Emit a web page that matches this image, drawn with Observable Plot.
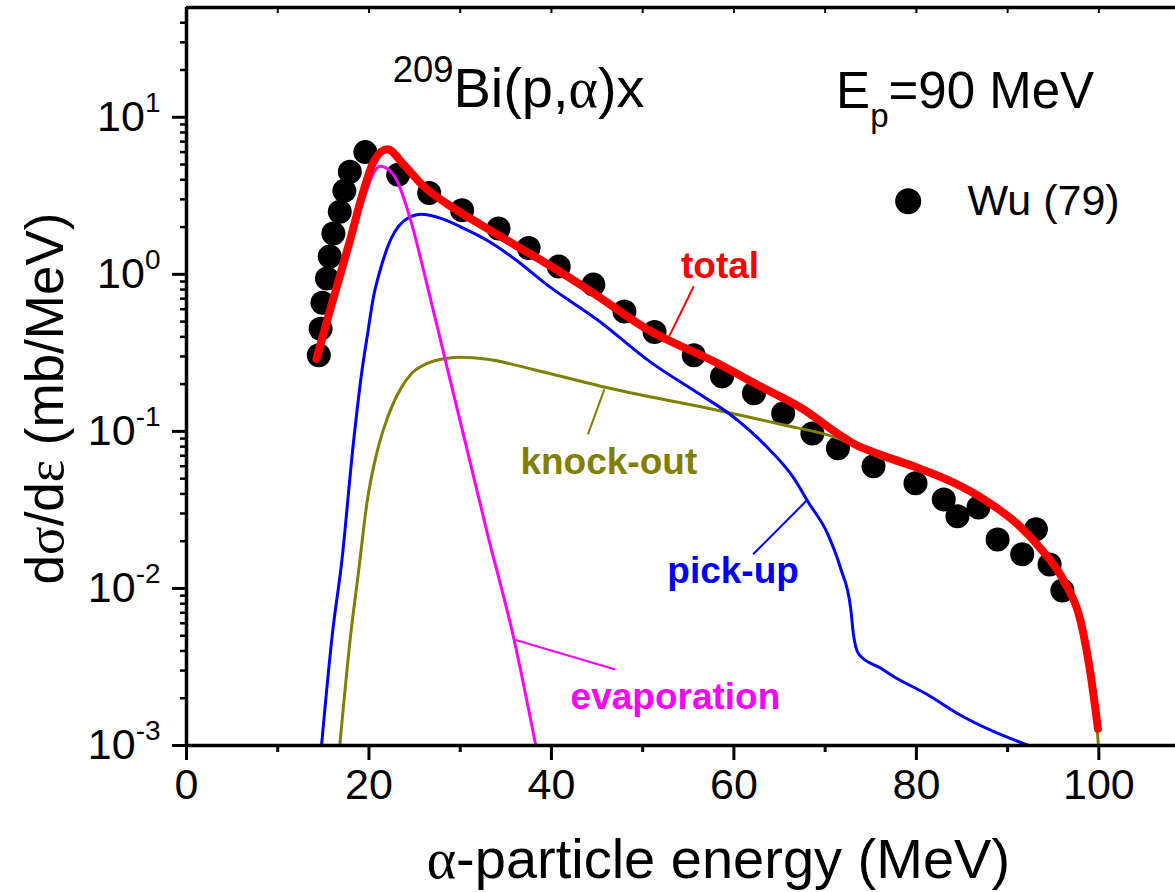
<!DOCTYPE html>
<html><head><meta charset="utf-8">
<script src="https://cdn.jsdelivr.net/npm/d3@7"></script>
<script src="https://cdn.jsdelivr.net/npm/@observablehq/plot@0.6"></script>
<style>body{margin:0;background:#fff}</style>
</head><body><div id="chart"></div>
<script>
// ---- data ----
const wuE = [14.5, 14.7, 14.9, 15.4, 15.7, 16.1, 16.8, 17.3, 17.9, 19.6, 23.2, 26.6, 30.2, 34.2, 37.5, 40.8, 44.6, 48.0, 51.3, 55.6, 58.7, 62.2, 65.4, 68.6, 71.4, 75.3, 79.9, 83.0, 84.5, 86.8, 88.9, 91.6, 93.1, 94.6, 96.0];
const wuY = [0.305, 0.45, 0.66, 0.94, 1.3, 1.82, 2.5, 3.4, 4.5, 6.0, 4.3, 3.3, 2.56, 1.96, 1.47, 1.12, 0.86, 0.58, 0.43, 0.305, 0.224, 0.175, 0.13, 0.097, 0.078, 0.060, 0.0467, 0.0369, 0.0288, 0.0328, 0.0205, 0.0165, 0.0238, 0.0142, 0.0097];

const totalE = [14.25, 15.8, 17.8, 19.4, 20.5, 22.0, 23.8, 26.0, 28.6, 32.2, 35.9, 39.6, 44.3, 50.5, 57.8, 63.3, 67.3, 71.7, 73.2, 76.1, 79.7, 83.8, 87.4, 91.1, 93.6, 96.2, 98.0, 99.1, 99.9];
const totalY = [0.29, 0.61, 1.55, 3.4, 5.2, 6.25, 5.0, 3.63, 2.8, 2.08, 1.55, 1.16, 0.78, 0.447, 0.279, 0.188, 0.142, 0.094, 0.083, 0.071, 0.060, 0.048, 0.0369, 0.0256, 0.018, 0.0111, 0.0062, 0.00283, 0.00128];

const evapE = [14.3, 15.8, 17.8, 19.4, 20.5, 21.2, 22.4, 23.1, 24.6, 26.0, 28.6, 30.8, 33.0, 35.9, 38.3];
const evapY = [0.28, 0.6, 1.5, 3.0, 4.4, 4.87, 4.5, 3.9, 2.18, 1.05, 0.25, 0.0747, 0.0221, 0.00473, 0.00099];

const pickE = [14.8, 16.0, 17.0, 18.3, 19.3, 19.8, 20.5, 21.2, 22.0, 23.8, 25.7, 27.9, 30.4, 33.3, 35.9, 39.6, 45.1, 50.9, 56.0, 59.6, 63.3, 66.6, 68.1, 70.3, 71.7, 72.8, 73.1, 73.7, 76.1, 77.5, 81.2, 84.5, 92.5];
const pickY = [0.001, 0.0052, 0.0145, 0.085, 0.26, 0.40, 0.72, 1.05, 1.47, 2.18, 2.41, 2.27, 1.96, 1.6, 1.26, 0.85, 0.51, 0.275, 0.176, 0.128, 0.083, 0.050, 0.0358, 0.0221, 0.0134, 0.00746, 0.0051, 0.0038, 0.0031, 0.00275, 0.00211, 0.0016, 0.00099];

const knockE = [16.8, 18.0, 18.9, 19.8, 20.9, 22.0, 23.5, 24.6, 26.4, 28.6, 30.0, 33.0, 38.0, 45.4, 47.9, 57.8, 65.1, 71.7, 73.5, 76.0, 80.0, 84.0, 88.0, 92.0, 94.0, 96.0, 98.0, 99.1, 99.6, 99.95];
const knockY = [0.001, 0.0051, 0.0134, 0.0358, 0.0747, 0.121, 0.188, 0.231, 0.271, 0.292, 0.296, 0.288, 0.248, 0.194, 0.18, 0.138, 0.111, 0.089, 0.080, 0.068, 0.057, 0.046, 0.035, 0.024, 0.017, 0.0108, 0.006, 0.0028, 0.0018, 0.001];

// ---- ticks ----
const xTicks = [0, 20, 40, 60, 80, 100];
const xMinorTicks = [10, 30, 50, 70, 90];
const xTopTicks = [10, 20, 30, 40, 50, 60, 70, 80, 90, 100];
const yTicks = [1e-3, 1e-2, 1e-1, 1, 10];
const yTickLabels = ["10^{-3}", "10^{-2}", "10^{-1}", "10^{0}", "10^{1}"];
const yMinorTicks = [];
for (const d of [1e-3, 1e-2, 1e-1, 1, 10]) for (const m of [2,3,4,5,6,7,8,9]) if (d*m < 50) yMinorTicks.push(d*m);

// ---- labels (data coordinates) ----
const curveLabels = [
  {text: "total", x: 54.2, y: 0.944, color: "#ff0000"},
  {text: "knock-out", x: 36.6, y: 0.0532, color: "#808000"},
  {text: "pick-up", x: 52.7, y: 0.01076, color: "#0000ff"},
  {text: "evaporation", x: 42.1, y: 0.00172, color: "#ff00ff"}
];
const leaders = [
  {x1: 52.9, y1: 0.403, x2: 55.6, y2: 0.84, color: "#ff0000"},
  {x1: 44.0, y1: 0.0957, x2: 45.8, y2: 0.185, color: "#808000"},
  {x1: 62.1, y1: 0.0165, x2: 68.0, y2: 0.0364, color: "#0000ff"},
  {x1: 35.9, y1: 0.00473, x2: 47.0, y2: 0.00305, color: "#ff00ff"}
];
const titleText = [{text: "^{209}Bi(p,α)x", x: 22.6, y: 11.6}];
const energyText = [{text: "E_{p}=90 MeV", x: 71.2, y: 11.4}];
const legendDot = [{x: 79.1, y: 2.92}];
const legendText = [{text: "Wu (79)", x: 85.6, y: 2.38}];
const xTitle = [{text: "α-particle energy (MeV)", x: 58.3}];
const yTitle = [{text: "dσ/dε (mb/MeV)", y: 0.162}];

const rows = (xs, ys) => xs.map((x, i) => ({x, y: ys[i]}));
const FONT = "'Liberation Sans', Arial, Helvetica, sans-serif";

const plot = Plot.plot({
  width: 1175, height: 892,
  marginLeft: 186, marginRight: 0, marginTop: 7, marginBottom: 147,
  style: {fontFamily: FONT, background: "#fff", color: "#000", overflow: "visible"},
  x: {domain: [0, 108.4], label: null},
  y: {type: "log", domain: [1e-3, 50], label: null},
  marks: [
    Plot.dot(rows(wuE, wuY), {x: "x", y: "y", r: 12, fill: "#000"}),
    Plot.line(rows(knockE, knockY), {x: "x", y: "y", stroke: "#808000", strokeWidth: 3, curve: "monotone-x", clip: true}),
    Plot.line(rows(pickE, pickY), {x: "x", y: "y", stroke: "#0000ff", strokeWidth: 3, curve: "monotone-x", clip: true}),
    Plot.line(rows(evapE, evapY), {x: "x", y: "y", stroke: "#ff00ff", strokeWidth: 3, curve: "monotone-x", clip: true}),
    Plot.line(rows(totalE, totalY), {x: "x", y: "y", stroke: "#ff0000", strokeWidth: 8, curve: "monotone-x", clip: true}),
    Plot.link(leaders, {x1: "x1", y1: "y1", x2: "x2", y2: "y2", stroke: "color", strokeWidth: 2}),
    Plot.text(curveLabels, {x: "x", y: "y", text: "text", fill: "color", fontWeight: "bold", fontSize: 37, textAnchor: "start", lineAnchor: "bottom"}),
    Plot.text(titleText, {x: "x", y: "y", text: "text", fontSize: 56, textAnchor: "start", lineAnchor: "bottom"}),
    Plot.text(energyText, {x: "x", y: "y", text: "text", fontSize: 51, textAnchor: "start", lineAnchor: "bottom"}),
    Plot.dot(legendDot, {x: "x", y: "y", r: 13, fill: "#000"}),
    Plot.text(legendText, {x: "x", y: "y", text: "text", fontSize: 43, textAnchor: "start", lineAnchor: "bottom"}),
    Plot.text(xTitle, {x: "x", frameAnchor: "bottom", dy: 132, text: "text", fontSize: 56, textAnchor: "middle", lineAnchor: "bottom"}),
    Plot.text(yTitle, {y: "y", frameAnchor: "left", dx: -124, rotate: -90, text: "text", fontSize: 53, textAnchor: "middle", lineAnchor: "bottom"}),
    // frame
    Plot.ruleX([0], {strokeWidth: 3.5}),
    Plot.ruleY([1e-3], {strokeWidth: 3.5}),
    Plot.ruleY([50], {strokeWidth: 3.5}),
    // axes
    Plot.axisX(xTicks, {anchor: "bottom", tickSize: 15, tickPadding: 8, strokeWidth: 3, fontSize: 43, label: null}),
    Plot.axisX(xMinorTicks, {anchor: "bottom", tickSize: 7, strokeWidth: 3, tickFormat: () => "", label: null}),
    Plot.axisX(xTopTicks, {anchor: "top", tickSize: 5, dy: 5, strokeWidth: 2, tickFormat: () => "", label: null}),
    Plot.axisY(yTicks, {anchor: "left", tickSize: 14, tickPadding: 12, strokeWidth: 3, fontSize: 43, tickFormat: d => yTickLabels[yTicks.indexOf(d)], label: null}),
    Plot.axisY(yMinorTicks, {anchor: "left", tickSize: 6, strokeWidth: 2.5, tickFormat: () => "", label: null})
  ]
});

// rich text: ^{sup}, _{sub}, Greek letters in a serif face
function richText(svg) {
  svg.querySelectorAll("text").forEach(t => {
    const s = t.textContent;
    if (!/\^\{|_\{|[α-ω]/.test(s)) return;
    const fs = parseFloat(t.getAttribute("font-size") || (t.parentNode && t.parentNode.getAttribute("font-size")) || getComputedStyle(t).fontSize) || 16;
    while (t.firstChild) t.removeChild(t.firstChild);
    const re = /\^\{([^}]*)\}|_\{([^}]*)\}|([α-ω])|([^\^_α-ω]+)/g;
    let m, shift = 0;
    const NS = "http://www.w3.org/2000/svg";
    while ((m = re.exec(s))) {
      const ts = document.createElementNS(NS, "tspan");
      let target = 0, size = fs;
      if (m[1] !== undefined) { target = -0.45 * fs; size = 0.65 * fs; ts.textContent = m[1]; }
      else if (m[2] !== undefined) { target = 0.36 * fs; size = 0.65 * fs; ts.textContent = m[2]; }
      else if (m[3] !== undefined) { ts.textContent = m[3]; ts.setAttribute("font-family", "'Liberation Serif', 'Times New Roman', serif"); }
      else ts.textContent = m[4];
      ts.setAttribute("font-size", size);
      if (target !== shift) ts.setAttribute("dy", target - shift);
      shift = target;
      t.appendChild(ts);
    }
  });
}
richText(plot);
document.getElementById("chart").appendChild(plot);
</script>
</body></html>
